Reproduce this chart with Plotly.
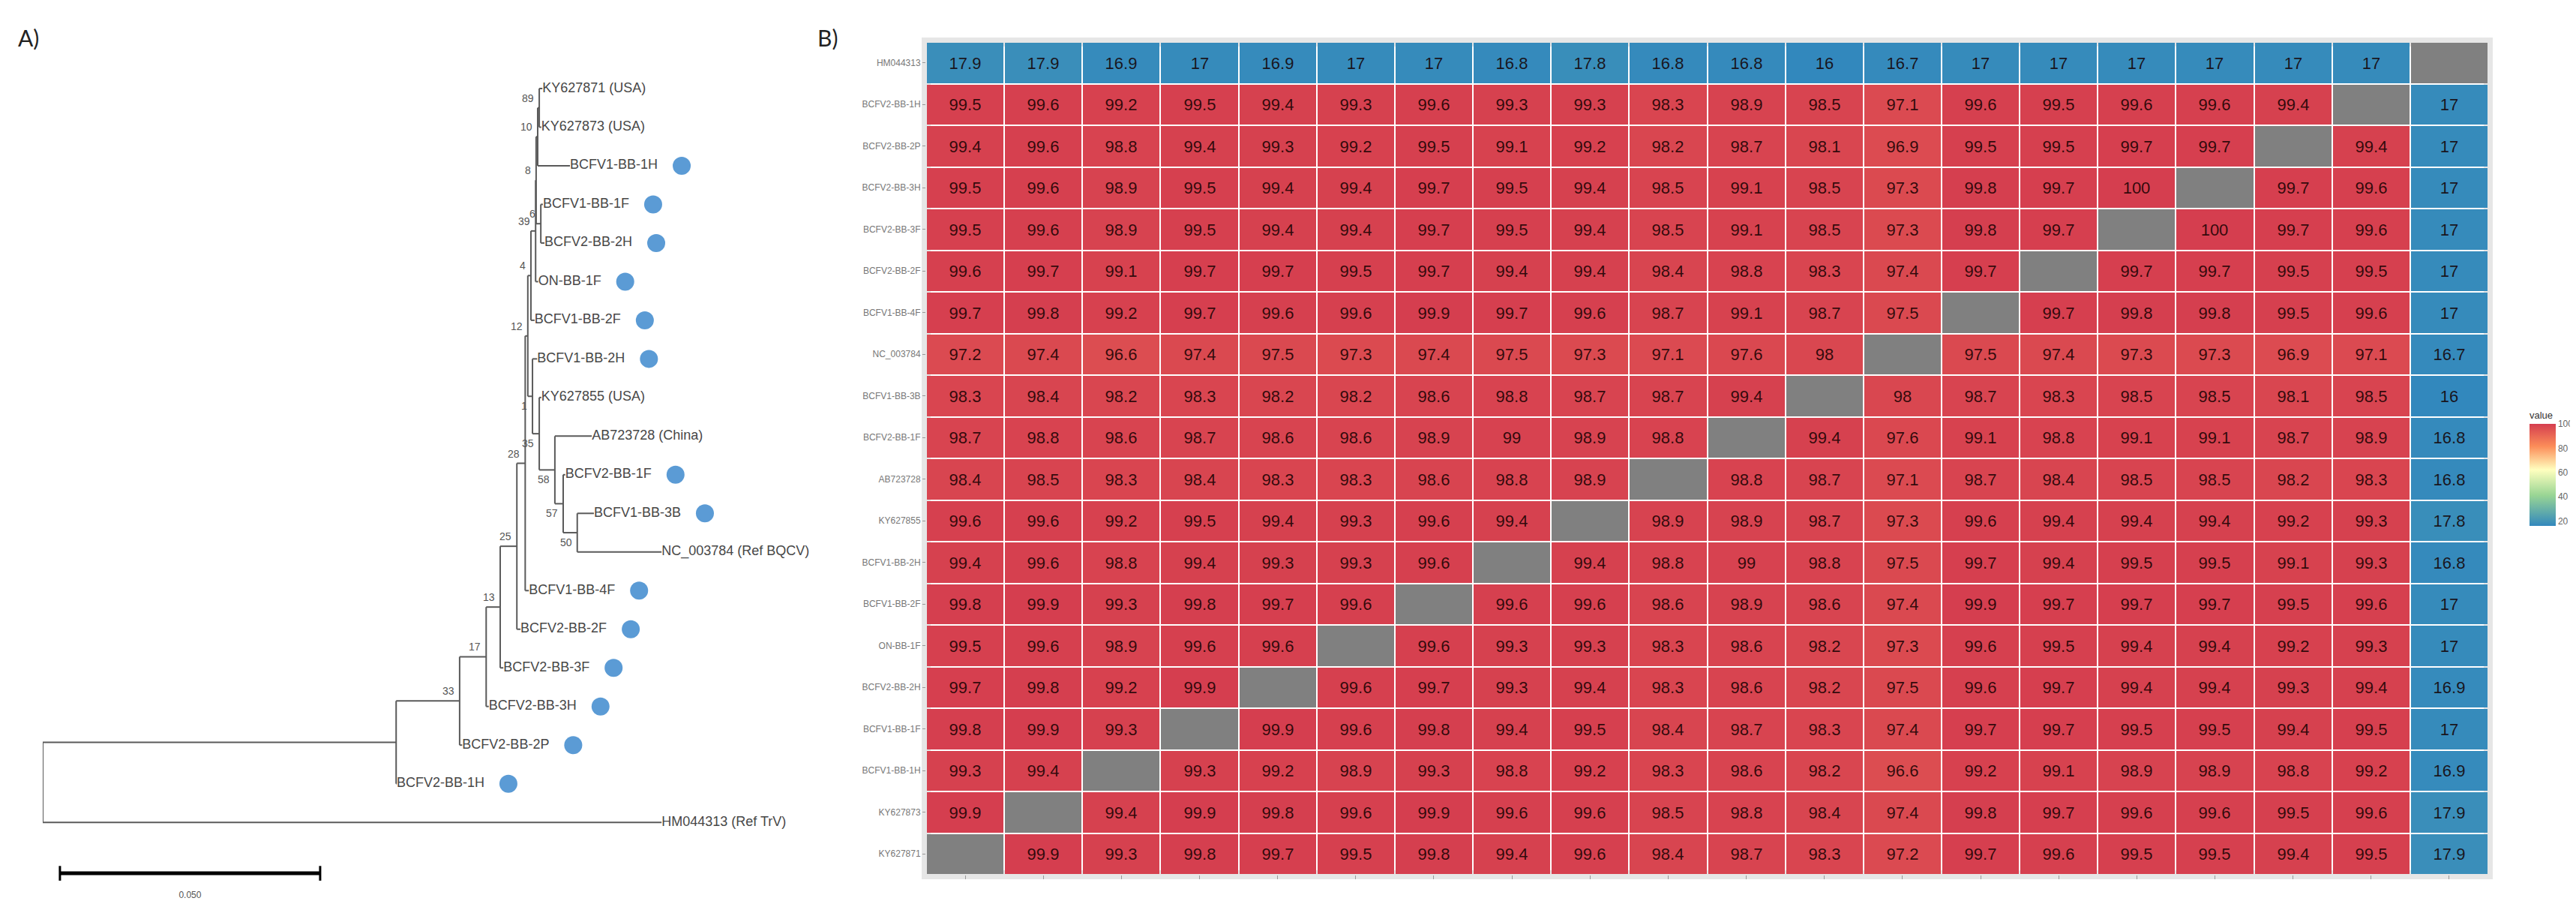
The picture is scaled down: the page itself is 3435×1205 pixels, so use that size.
import plotly.graph_objects as go

# ---------------- A) phylogenetic tree ----------------
LEAF_NAMES = ['KY627871 (USA)', 'KY627873 (USA)', 'BCFV1-BB-1H', 'BCFV1-BB-1F', 'BCFV2-BB-2H',
              'ON-BB-1F', 'BCFV1-BB-2F', 'BCFV1-BB-2H', 'KY627855 (USA)', 'AB723728 (China)',
              'BCFV2-BB-1F', 'BCFV1-BB-3B', 'NC_003784 (Ref BQCV)', 'BCFV1-BB-4F', 'BCFV2-BB-2F',
              'BCFV2-BB-3F', 'BCFV2-BB-3H', 'BCFV2-BB-2P', 'BCFV2-BB-1H', 'HM044313 (Ref TrV)']
LEAF_DEPTH = [0.0960, 0.0958, 0.1013, 0.0961, 0.0964, 0.0952, 0.0945, 0.0950, 0.0958, 0.1055,
              0.1004, 0.1059, 0.1189, 0.0934, 0.0918, 0.0885, 0.0857, 0.0806, 0.0680, 0.1189]
LEAF_SAMPLE = [0, 0, 1, 1, 1, 1, 1, 1, 0, 0, 1, 1, 0, 1, 1, 1, 1, 1, 1, 0]

NODE_NAMES = ['n89', 'n10', 'n6', 'n8', 'n39', 'n4', 'n50', 'n57', 'n58', 'n35', 'n1', 'n12',
              'n28', 'n25', 'n13', 'n17', 'n33', 'nA', 'root']
NODE_DEPTH = [0.0954, 0.0951, 0.0957, 0.0948, 0.0947, 0.0938, 0.1027, 0.1000, 0.0984, 0.0954,
              0.0941, 0.0932, 0.0927, 0.0911, 0.0879, 0.0852, 0.0801, 0.0679, 0.0]
NODE_CHILDREN = [
    ['KY627871 (USA)', 'KY627873 (USA)'],
    ['n89', 'BCFV1-BB-1H'],
    ['BCFV1-BB-1F', 'BCFV2-BB-2H'],
    ['n10', 'n6'],
    ['n8', 'ON-BB-1F'],
    ['n39', 'BCFV1-BB-2F'],
    ['BCFV1-BB-3B', 'NC_003784 (Ref BQCV)'],
    ['BCFV2-BB-1F', 'n50'],
    ['AB723728 (China)', 'n57'],
    ['KY627855 (USA)', 'n58'],
    ['BCFV1-BB-2H', 'n35'],
    ['n4', 'n1'],
    ['n12', 'BCFV1-BB-4F'],
    ['n28', 'BCFV2-BB-2F'],
    ['n25', 'BCFV2-BB-3F'],
    ['n13', 'BCFV2-BB-3H'],
    ['n17', 'BCFV2-BB-2P'],
    ['n33', 'BCFV2-BB-1H'],
    ['nA', 'HM044313 (Ref TrV)'],
]
NODE_SUPPORT = ['89', '10', '6', '8', '39', '4', '50', '57', '58', '35', '1', '12',
                '28', '25', '13', '17', '33', '', '']
SUPPORT_ABOVE = [1] * 6 + [0] * 5 + [1] * 8

SCALE_BAR = 0.05

# ---------------- B) identity heatmap ----------------
ROW_NAMES = ['HM044313', 'BCFV2-BB-1H', 'BCFV2-BB-2P', 'BCFV2-BB-3H', 'BCFV2-BB-3F', 'BCFV2-BB-2F',
             'BCFV1-BB-4F', 'NC_003784', 'BCFV1-BB-3B', 'BCFV2-BB-1F', 'AB723728', 'KY627855',
             'BCFV1-BB-2H', 'BCFV1-BB-2F', 'ON-BB-1F', 'BCFV2-BB-2H', 'BCFV1-BB-1F', 'BCFV1-BB-1H',
             'KY627873', 'KY627871']
COL_NAMES = ROW_NAMES[::-1]
N = None
IDENTITY = [
    [17.9, 17.9, 16.9, 17, 16.9, 17, 17, 16.8, 17.8, 16.8, 16.8, 16, 16.7, 17, 17, 17, 17, 17, 17, N],
    [99.5, 99.6, 99.2, 99.5, 99.4, 99.3, 99.6, 99.3, 99.3, 98.3, 98.9, 98.5, 97.1, 99.6, 99.5, 99.6, 99.6, 99.4, N, 17],
    [99.4, 99.6, 98.8, 99.4, 99.3, 99.2, 99.5, 99.1, 99.2, 98.2, 98.7, 98.1, 96.9, 99.5, 99.5, 99.7, 99.7, N, 99.4, 17],
    [99.5, 99.6, 98.9, 99.5, 99.4, 99.4, 99.7, 99.5, 99.4, 98.5, 99.1, 98.5, 97.3, 99.8, 99.7, 100, N, 99.7, 99.6, 17],
    [99.5, 99.6, 98.9, 99.5, 99.4, 99.4, 99.7, 99.5, 99.4, 98.5, 99.1, 98.5, 97.3, 99.8, 99.7, N, 100, 99.7, 99.6, 17],
    [99.6, 99.7, 99.1, 99.7, 99.7, 99.5, 99.7, 99.4, 99.4, 98.4, 98.8, 98.3, 97.4, 99.7, N, 99.7, 99.7, 99.5, 99.5, 17],
    [99.7, 99.8, 99.2, 99.7, 99.6, 99.6, 99.9, 99.7, 99.6, 98.7, 99.1, 98.7, 97.5, N, 99.7, 99.8, 99.8, 99.5, 99.6, 17],
    [97.2, 97.4, 96.6, 97.4, 97.5, 97.3, 97.4, 97.5, 97.3, 97.1, 97.6, 98, N, 97.5, 97.4, 97.3, 97.3, 96.9, 97.1, 16.7],
    [98.3, 98.4, 98.2, 98.3, 98.2, 98.2, 98.6, 98.8, 98.7, 98.7, 99.4, N, 98, 98.7, 98.3, 98.5, 98.5, 98.1, 98.5, 16],
    [98.7, 98.8, 98.6, 98.7, 98.6, 98.6, 98.9, 99, 98.9, 98.8, N, 99.4, 97.6, 99.1, 98.8, 99.1, 99.1, 98.7, 98.9, 16.8],
    [98.4, 98.5, 98.3, 98.4, 98.3, 98.3, 98.6, 98.8, 98.9, N, 98.8, 98.7, 97.1, 98.7, 98.4, 98.5, 98.5, 98.2, 98.3, 16.8],
    [99.6, 99.6, 99.2, 99.5, 99.4, 99.3, 99.6, 99.4, N, 98.9, 98.9, 98.7, 97.3, 99.6, 99.4, 99.4, 99.4, 99.2, 99.3, 17.8],
    [99.4, 99.6, 98.8, 99.4, 99.3, 99.3, 99.6, N, 99.4, 98.8, 99, 98.8, 97.5, 99.7, 99.4, 99.5, 99.5, 99.1, 99.3, 16.8],
    [99.8, 99.9, 99.3, 99.8, 99.7, 99.6, N, 99.6, 99.6, 98.6, 98.9, 98.6, 97.4, 99.9, 99.7, 99.7, 99.7, 99.5, 99.6, 17],
    [99.5, 99.6, 98.9, 99.6, 99.6, N, 99.6, 99.3, 99.3, 98.3, 98.6, 98.2, 97.3, 99.6, 99.5, 99.4, 99.4, 99.2, 99.3, 17],
    [99.7, 99.8, 99.2, 99.9, N, 99.6, 99.7, 99.3, 99.4, 98.3, 98.6, 98.2, 97.5, 99.6, 99.7, 99.4, 99.4, 99.3, 99.4, 16.9],
    [99.8, 99.9, 99.3, N, 99.9, 99.6, 99.8, 99.4, 99.5, 98.4, 98.7, 98.3, 97.4, 99.7, 99.7, 99.5, 99.5, 99.4, 99.5, 17],
    [99.3, 99.4, N, 99.3, 99.2, 98.9, 99.3, 98.8, 99.2, 98.3, 98.6, 98.2, 96.6, 99.2, 99.1, 98.9, 98.9, 98.8, 99.2, 16.9],
    [99.9, N, 99.4, 99.9, 99.8, 99.6, 99.9, 99.6, 99.6, 98.5, 98.8, 98.4, 97.4, 99.8, 99.7, 99.6, 99.6, 99.5, 99.6, 17.9],
    [N, 99.9, 99.3, 99.8, 99.7, 99.5, 99.8, 99.4, 99.6, 98.4, 98.7, 98.3, 97.2, 99.7, 99.6, 99.5, 99.5, 99.4, 99.5, 17.9],
]

W, H = 3435, 1205
PX_PER_UNIT = 6940          # tree horizontal scale (0.05 subst. = 347 px)
FONT = 'Liberation Sans, Arial, sans-serif'
TREE_LINE = '#5a5a5a'
DOT = '#5b9bd5'

# Arial advance widths (em) for the label characters, to put the dots after the labels
ARIAL_W = {'A': .667, 'B': .667, 'C': .722, 'F': .611, 'H': .722, 'K': .667, 'M': .833, 'N': .722,
           'O': .778, 'P': .667, 'Q': .778, 'R': .722, 'S': .667, 'T': .611, 'U': .722, 'V': .667,
           'Y': .667, '-': .333, '_': .556, ' ': .278, '(': .333, ')': .333, 'e': .556, 'f': .278,
           'h': .556, 'i': .222, 'n': .556, 'a': .556, 'r': .333}


def text_px(s, size):
    return sum(ARIAL_W.get(c, .556) for c in s) * size


# ---- tree geometry ----
depth = dict(zip(LEAF_NAMES, LEAF_DEPTH))
depth.update(zip(NODE_NAMES, NODE_DEPTH))
children = dict(zip(NODE_NAMES, NODE_CHILDREN))
ypos = {name: i for i, name in enumerate(LEAF_NAMES)}


def node_y(name):
    if name not in ypos:
        ys = [node_y(c) for c in children[name]]
        ypos[name] = (min(ys) + max(ys)) / 2
    return ypos[name]


for n in NODE_NAMES:
    node_y(n)

seg_x, seg_y = [], []
for n in NODE_NAMES:
    ys = [ypos[c] for c in children[n]]
    seg_x += [depth[n], depth[n], None]
    seg_y += [min(ys), max(ys), None]
    for c in children[n]:
        seg_x += [depth[n], depth[c], None]
        seg_y += [ypos[c], ypos[c], None]

fig = go.Figure()

fig.add_trace(go.Scatter(x=seg_x, y=seg_y, mode='lines', line=dict(color=TREE_LINE, width=2),
                         hoverinfo='skip', showlegend=False, xaxis='x', yaxis='y'))

fig.add_trace(go.Scatter(x=LEAF_DEPTH, y=list(range(len(LEAF_NAMES))), mode='text',
                         text=LEAF_NAMES, textposition='middle right',
                         textfont=dict(family=FONT, size=18, color='#474747'),
                         cliponaxis=False, hoverinfo='skip', showlegend=False, xaxis='x', yaxis='y'))

dot_x = [d + (6 + text_px(s, 18) + 26) / PX_PER_UNIT
         for d, s, m in zip(LEAF_DEPTH, LEAF_NAMES, LEAF_SAMPLE) if m]
dot_y = [i for i, m in enumerate(LEAF_SAMPLE) if m]
fig.add_trace(go.Scatter(x=dot_x, y=dot_y, mode='markers',
                         marker=dict(color=DOT, size=24, line=dict(width=0)),
                         cliponaxis=False, hoverinfo='skip', showlegend=False, xaxis='x', yaxis='y'))

# bootstrap values, to the left of each node
annots = []
for n, s, above in zip(NODE_NAMES, NODE_SUPPORT, SUPPORT_ABOVE):
    if not s:
        continue
    annots.append(dict(x=depth[n], y=ypos[n], xref='x', yref='y', text=s, showarrow=False,
                       xanchor='right', yanchor='bottom' if above else 'top',
                       xshift=-5, yshift=3 if above else -3,
                       font=dict(family=FONT, size=14, color='#555555')))

# scale bar
bar_x0 = 0.0033
bar_y = len(LEAF_NAMES) + 0.32
fig.add_trace(go.Scatter(x=[bar_x0, bar_x0 + SCALE_BAR], y=[bar_y, bar_y], mode='lines+markers',
                         line=dict(color='black', width=5),
                         marker=dict(symbol='line-ns', size=14, line=dict(color='black', width=3)),
                         hoverinfo='skip', showlegend=False, xaxis='x', yaxis='y'))
fig.add_trace(go.Scatter(x=[bar_x0 + SCALE_BAR / 2], y=[bar_y + 0.58], mode='text',
                         text=[f'{SCALE_BAR:.3f}'], textfont=dict(family=FONT, size=12, color='#555555'),
                         hoverinfo='skip', showlegend=False, xaxis='x', yaxis='y'))

# ---- heatmap ----
cell_text = [['' if v is None else f'{v:g}' for v in row] for row in IDENTITY]
diag = [[1 if v is None else None for v in row] for row in IDENTITY]

fig.add_trace(go.Heatmap(z=diag, x=COL_NAMES, y=ROW_NAMES, xgap=2, ygap=2,
                         colorscale=[[0, '#808080'], [1, '#808080']], showscale=False,
                         hoverinfo='skip', xaxis='x2', yaxis='y2'))
fig.add_trace(go.Heatmap(
    z=IDENTITY, x=COL_NAMES, y=ROW_NAMES, xgap=2, ygap=2, zmin=16, zmax=100,
    text=cell_text, texttemplate='%{text}',
    textfont=dict(family=FONT, size=22, color='rgba(20,0,0,0.85)'),
    colorscale=[[0, '#3288bd'], [0.3, '#99d594'], [0.55, '#ffffbf'], [0.78, '#fc8d59'], [1, '#d53e4f']],
    colorbar=dict(title=dict(text='value', side='top', font=dict(family=FONT, size=13, color='#333')),
                  x=3355 / W, xanchor='left', y=(H - 615) / H, yanchor='middle',
                  len=176 / H, lenmode='fraction', thickness=35, outlinewidth=0,
                  tickvals=[20, 40, 60, 80, 100], ticks='',
                  tickfont=dict(family=FONT, size=12, color='#666')),
    xaxis='x2', yaxis='y2'))

annots += [
    dict(text='A)', x=14 / W, y=1 - 22 / H, xref='paper', yref='paper', xanchor='left',
         yanchor='top', showarrow=False, font=dict(family='Lato, sans-serif', size=30, color='#222')),
    dict(text='B)', x=1080 / W, y=1 - 22 / H, xref='paper', yref='paper', xanchor='left',
         yanchor='top', showarrow=False, font=dict(family='Lato, sans-serif', size=30, color='#222')),
]

fig.update_layout(
    width=W, height=H,
    margin=dict(l=0, r=0, t=0, b=0),
    paper_bgcolor='white', plot_bgcolor='white',
    xaxis=dict(domain=[49 / W, (49 + 0.16 * PX_PER_UNIT) / W], range=[0, 0.16], visible=False),
    yaxis=dict(domain=[0, 1], range=[21.27, -2.137], visible=False),
    xaxis2=dict(domain=[1227 / W, 3310 / W], anchor='y2', showgrid=False, zeroline=False,
                showticklabels=False, ticks='outside', ticklen=5, tickcolor='#999'),
    yaxis2=dict(domain=[47 / H, 1157 / H], anchor='x2', autorange='reversed', showgrid=False,
                zeroline=False, ticks='outside', ticklen=4, tickcolor='#999',
                tickfont=dict(family=FONT, size=12, color='#777')),
    shapes=[dict(type='rect', xref='x2 domain', yref='y2 domain', x0=0, x1=1, y0=0, y1=1,
                 line=dict(color='#e6e6e6', width=12), layer='below')],
    annotations=annots,
)

fig.write_html('out.html')
